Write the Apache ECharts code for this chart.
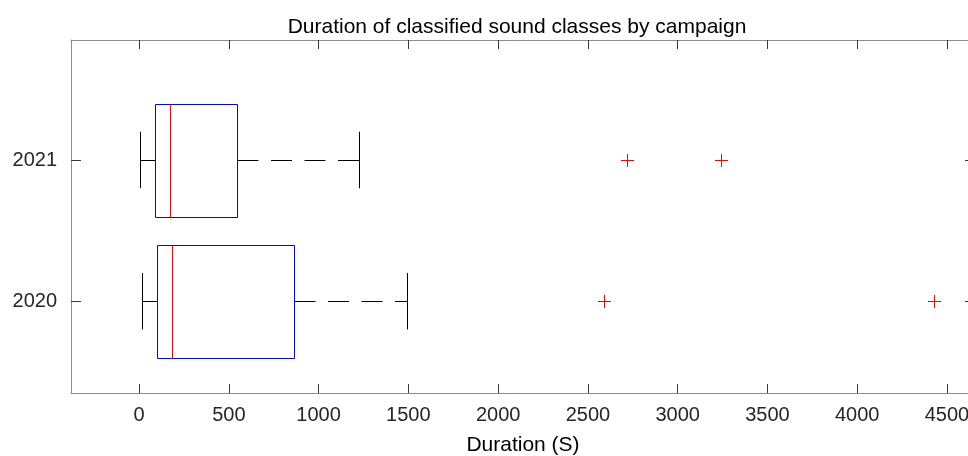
<!DOCTYPE html>
<html>
<head>
<meta charset="utf-8">
<title>Duration of classified sound classes by campaign</title>
<script src="https://cdn.jsdelivr.net/npm/echarts@6/dist/echarts.min.js"></script>
<style>
  html, body { margin: 0; padding: 0; background: #fff; }
  #chart { width: 968px; height: 456px; }
</style>
</head>
<body>
<div id="chart"></div>
<script>
// campaigns, bottom to top on the y axis
const campaigns = ['2020', '2021']
// box statistics (seconds), one entry per campaign
const lowerWhisker = [15, 6]
const q1 = [100, 87]
const median = [182, 173]
const q3 = [865, 548]
const upperWhisker = [1493, 1225]
// outliers per campaign
const outliers2020 = [2588, 4428]
const outliers2021 = [2716, 3243]
const xTicks = [0, 500, 1000, 1500, 2000, 2500, 3000, 3500, 4000, 4500]

const fontFamily = '"Liberation Sans", Arial, Helvetica, sans-serif'
const axisLineColor = '#8c8c8c'
const tickColor = '#3a3a3a'

// y position of each campaign: 1, 2, ...
const boxData = campaigns.map((c, i) => [i + 1, lowerWhisker[i], q1[i], median[i], q3[i], upperWhisker[i]])
const outlierData = []
outliers2020.forEach((v) => outlierData.push([v, 1]))
outliers2021.forEach((v) => outlierData.push([v, 2]))

const crisp = (v) => Math.round(v) + 0.5

function renderBox(params, api) {
  const y = api.value(0)
  const lo = api.coord([api.value(1), y])
  const a = api.coord([api.value(2), y])
  const m = api.coord([api.value(3), y])
  const b = api.coord([api.value(4), y])
  const hi = api.coord([api.value(5), y])
  const boxTop = api.coord([0, y + 0.4])[1]
  const boxBot = api.coord([0, y - 0.4])[1]
  const capTop = api.coord([0, y + 0.2])[1]
  const capBot = api.coord([0, y - 0.2])[1]
  const cy = crisp(m[1])
  const whisker = { stroke: '#000', lineWidth: 1, lineDash: [21, 12.5] }
  return {
    type: 'group',
    children: [
      // whiskers, dashed starting at the box edge
      { type: 'line', shape: { x1: crisp(b[0]), y1: cy, x2: crisp(hi[0]), y2: cy }, style: whisker },
      { type: 'line', shape: { x1: crisp(a[0]), y1: cy, x2: crisp(lo[0]), y2: cy }, style: whisker },
      // caps
      { type: 'line', shape: { x1: crisp(hi[0]), y1: capTop, x2: crisp(hi[0]), y2: capBot }, style: { stroke: '#000', lineWidth: 1 } },
      { type: 'line', shape: { x1: crisp(lo[0]), y1: capTop, x2: crisp(lo[0]), y2: capBot }, style: { stroke: '#000', lineWidth: 1 } },
      // box
      {
        type: 'rect',
        shape: { x: crisp(a[0]), y: crisp(boxTop), width: Math.round(b[0]) - Math.round(a[0]), height: Math.round(boxBot) - Math.round(boxTop) },
        style: { fill: 'none', stroke: '#0000ff', lineWidth: 1 }
      },
      // median
      { type: 'line', z2: 10, shape: { x1: crisp(m[0]), y1: crisp(boxTop), x2: crisp(m[0]), y2: crisp(boxBot) }, style: { stroke: '#ff0000', lineWidth: 1 } }
    ]
  }
}

function renderPlus(params, api) {
  const p = api.coord([api.value(0), api.value(1)])
  const r = 6.5
  const x = crisp(p[0])
  const y = crisp(p[1])
  return {
    type: 'group',
    children: [
      { type: 'line', shape: { x1: x - r, y1: y, x2: x + r, y2: y }, style: { stroke: '#ff0000', lineWidth: 1 } },
      { type: 'line', shape: { x1: x, y1: y - r, x2: x, y2: y + r }, style: { stroke: '#ff0000', lineWidth: 1 } }
    ]
  }
}

const xMin = -379
const xMax = 4656
const yMin = 0.35
const yMax = 2.85

const baseX = {
  type: 'value',
  min: xMin,
  max: xMax,
  splitLine: { show: false },
  axisLine: { show: true, onZero: false, lineStyle: { color: axisLineColor, width: 1 } },
  axisTick: { show: true, inside: true, length: 9, customValues: xTicks, lineStyle: { color: tickColor } }
}
const baseY = {
  type: 'value',
  min: yMin,
  max: yMax,
  splitLine: { show: false },
  axisLine: { show: true, onZero: false, lineStyle: { color: axisLineColor, width: 1 } },
  axisTick: { show: true, inside: true, length: 10, customValues: [1, 2], lineStyle: { color: tickColor } }
}

const chart = echarts.init(document.getElementById('chart'), null, { renderer: 'canvas' })
const option = {
  backgroundColor: '#fff',
  animation: false,
  textStyle: { fontFamily: fontFamily },
  title: {
    text: 'Duration of classified sound classes by campaign',
    left: 512,
    top: 12,
    textAlign: 'center',
    textStyle: { fontFamily: fontFamily, fontSize: 21, fontWeight: 'normal', color: '#000' }
  },
  grid: { left: 71, right: -7, top: 40, bottom: 63, containLabel: false, outerBoundsMode: 'none' },
  xAxis: [
    Object.assign({}, baseX, {
      position: 'bottom',
      name: 'Duration (S)',
      nameLocation: 'middle',
      nameGap: 42,
      nameTextStyle: { fontFamily: fontFamily, fontSize: 21, color: '#000' },
      axisLabel: {
        show: true,
        customValues: xTicks,
        margin: 12,
        fontSize: 20,
        color: '#262626',
        fontFamily: fontFamily,
        formatter: (v) => String(v)
      }
    }),
    Object.assign({}, baseX, { position: 'top', axisLabel: { show: false } })
  ],
  yAxis: [
    Object.assign({}, baseY, {
      position: 'left',
      axisLabel: {
        show: true,
        customValues: [1, 2],
        margin: 14,
        fontSize: 20,
        color: '#262626',
        fontFamily: fontFamily,
        formatter: (v) => campaigns[Math.round(v) - 1]
      }
    }),
    Object.assign({}, baseY, { position: 'right', axisLabel: { show: false } })
  ],
  series: [
    {
      type: 'custom',
      xAxisIndex: 0,
      yAxisIndex: 0,
      renderItem: renderBox,
      encode: { x: [1, 2, 3, 4, 5], y: 0 },
      data: boxData,
      z: 3
    },
    {
      type: 'custom',
      xAxisIndex: 0,
      yAxisIndex: 0,
      renderItem: renderPlus,
      encode: { x: 0, y: 1 },
      data: outlierData,
      z: 4
    }
  ]
}
chart.setOption(option)
window.addEventListener('resize', () => {
  chart.resize()
})
</script>
</body>
</html>
